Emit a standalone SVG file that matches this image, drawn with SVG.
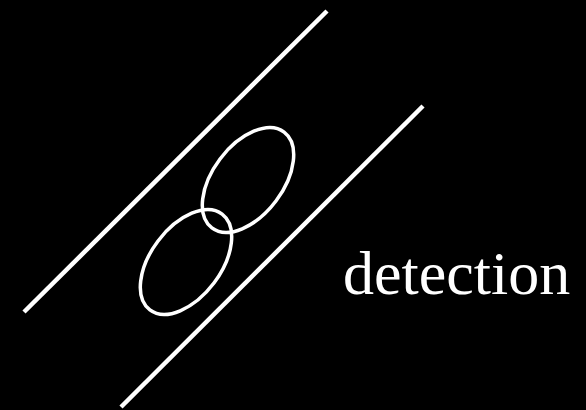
<svg xmlns="http://www.w3.org/2000/svg" width="586" height="410" viewBox="0 0 586 410">
<style>
.ln{stroke:#fff;stroke-width:4.5;fill:none;stroke-linecap:butt}
.el{stroke:#fff;stroke-width:3.5;fill:none}
.lbl{font-family:"Liberation Serif","Times New Roman",serif;font-size:62px;fill:#fff}
</style>
<rect width="586" height="410" fill="#000"/>
<g id="connectors">
<line class="ln" x1="24" y1="312" x2="327" y2="11"/>
<line class="ln" x1="121" y1="407" x2="423" y2="106"/>
</g>
<g id="ellipse-upper"><ellipse class="el" cx="248" cy="180" rx="60" ry="35" transform="rotate(-53 248 180)"/></g>
<g id="ellipse-lower"><ellipse class="el" cx="186" cy="262" rx="60" ry="35" transform="rotate(-53 186 262)"/></g>
<g id="label"><text class="lbl" x="343" y="294">detection</text></g>
</svg>
